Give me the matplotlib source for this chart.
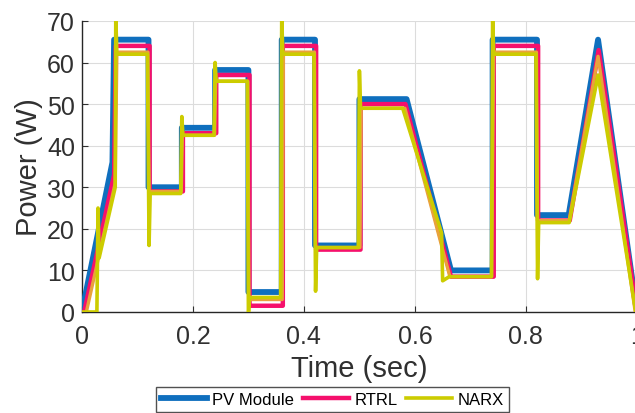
import matplotlib.pyplot as plt

plt.rcParams['font.family'] = ['Liberation Sans', 'DejaVu Sans']

# PV module output power (W) vs time (sec)
t_pv = [0, 0.055, 0.058, 0.12, 0.12, 0.18, 0.18, 0.24, 0.24, 0.30, 0.30, 0.36, 0.36,
        0.42, 0.42, 0.50, 0.50, 0.585, 0.665, 0.74, 0.74, 0.82, 0.82, 0.877, 0.93, 1.0]
p_pv = [0, 36, 65.5, 65.5, 30, 30, 44.3, 44.3, 58.2, 58.2, 4.8, 4.8, 65.5,
        65.5, 16, 16, 51.2, 51.2, 10, 10, 65.5, 65.5, 23.3, 23.3, 65.5, 0]

# RTRL estimate
t_rtrl = [0.004, 0.058, 0.061, 0.122, 0.122, 0.182, 0.182, 0.242, 0.242, 0.302, 0.302, 0.362, 0.362,
          0.422, 0.422, 0.502, 0.502, 0.583, 0.665, 0.742, 0.742, 0.822, 0.822, 0.879, 0.931, 1.0]
p_rtrl = [0, 33, 64, 64, 29, 29, 43, 43, 57, 57, 1.5, 1.5, 64,
          64, 15, 15, 50, 50, 8.5, 8.5, 64, 64, 22, 22, 63, 0]

# second network output drawn under NARX (no legend entry)
t_aux = [0.008, 0.06, 0.063, 0.119, 0.121, 0.179, 0.181, 0.239, 0.241, 0.299, 0.301, 0.361, 0.363,
         0.419, 0.421, 0.501, 0.503, 0.582, 0.663, 0.738, 0.742, 0.819, 0.821, 0.878, 0.93, 0.997]
p_aux = [0, 31, 62.5, 62.5, 29, 29, 42.5, 42.5, 55.5, 55.5, 3, 3, 62.5,
         62.5, 15.5, 15.5, 49, 49, 8.5, 8.5, 62.5, 62.5, 22, 22, 61.5, 0]

# NARX estimate, with transient spikes at each step
t_narx = [0, 0.027, 0.029, 0.031, 0.06, 0.061, 0.063, 0.118, 0.121, 0.123, 0.178, 0.18, 0.182,
          0.238, 0.24, 0.242, 0.298, 0.3, 0.302, 0.358, 0.36, 0.362, 0.418, 0.421, 0.423,
          0.498, 0.5, 0.502, 0.578, 0.648, 0.65, 0.662, 0.738, 0.74, 0.742, 0.818, 0.821, 0.823,
          0.878, 0.93, 0.998]
p_narx = [0, 0, 25, 13, 30, 71, 62, 62, 16, 28.5, 28.5, 47, 42.5,
          42.5, 60, 55.5, 55.5, -1, 3.5, 3.5, 71, 62, 62, 5, 15.5,
          15.5, 58, 49, 49, 19, 7.5, 8.5, 8.5, 71, 62, 62, 8, 21.5,
          21.5, 57, 0]

fig = plt.figure(figsize=(6.35, 4.14), dpi=100)
ax = fig.add_axes([0.129, 0.244, 0.874, 0.703])

ax.plot(t_pv, p_pv, color='#0F6FBE', lw=4.2, label='PV Module', zorder=3)
ax.plot(t_rtrl, p_rtrl, color='#F5106C', lw=3.2, label='RTRL', zorder=4)
ax.plot(t_aux, p_aux, color='#E9A23B', lw=2.4, zorder=5)
ax.plot(t_narx, p_narx, color='#CCCC00', lw=2.6, label='NARX', zorder=6)

ax.set_xlim(0, 1)
ax.set_ylim(0, 70)
ax.set_xticks([0, 0.2, 0.4, 0.6, 0.8, 1])
ax.set_xticklabels(['0', '0.2', '0.4', '0.6', '0.8', '1'])
ax.set_yticks(range(0, 71, 10))
ax.grid(True, color='#DCDCDC', lw=0.8)
ax.set_axisbelow(True)
ax.tick_params(direction='in', labelsize=18, colors='#303030', length=4)
ax.tick_params(axis='x', pad=9)
ax.tick_params(axis='y', pad=5)
for s in ['top', 'right']:
    ax.spines[s].set_visible(False)
for s in ['left', 'bottom']:
    ax.spines[s].set_color('#262626')
    ax.spines[s].set_linewidth(1.0)

ax.set_xlabel('Time (sec)', fontsize=21, color='#303030', labelpad=4)
ax.set_ylabel('Power (W)', fontsize=21, color='#303030', labelpad=3)

leg = ax.legend(loc='upper center', bbox_to_anchor=(0.523, 0.063), bbox_transform=fig.transFigure,
                ncol=3, fontsize=12, frameon=True, fancybox=False, handlelength=2.8,
                columnspacing=0.5, handletextpad=0.3, borderpad=0.3, borderaxespad=0)
leg.get_frame().set_edgecolor('#262626')
leg.get_frame().set_linewidth(1.0)

fig.savefig('out.png', dpi=100)
